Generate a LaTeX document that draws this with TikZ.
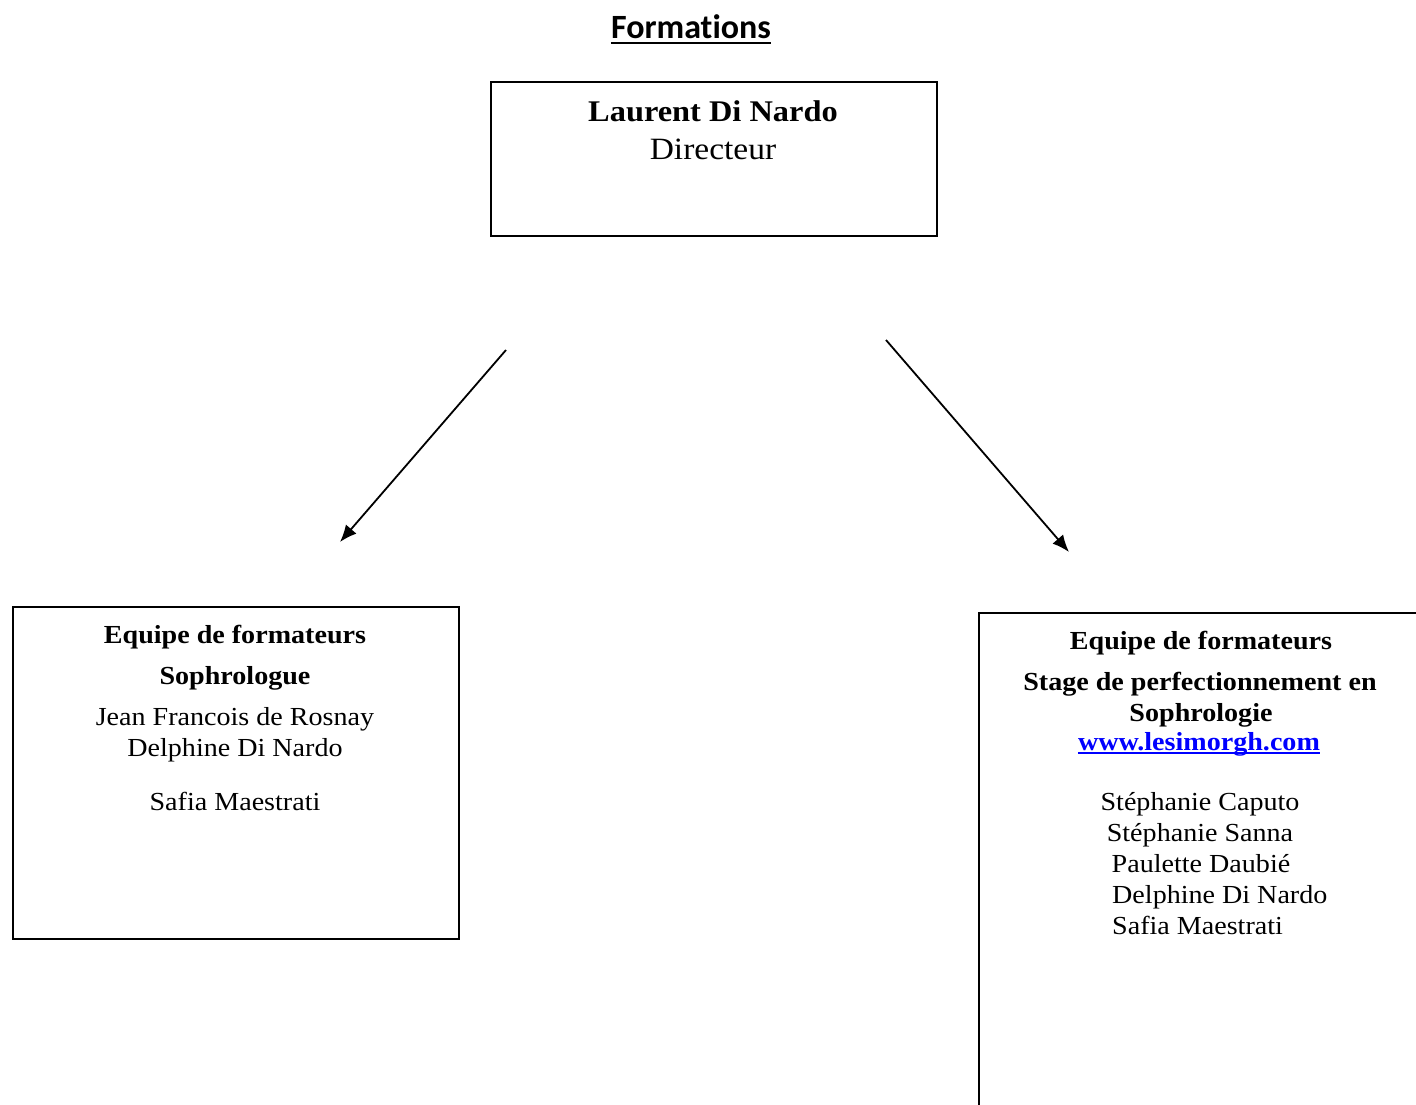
\documentclass[tikz,border=0pt]{standalone}
\usepackage{fontspec}
\setmainfont{Liberation Serif}[FakeStretch=1.08]
\newfontfamily\titlefont{Carlito}[Ligatures=NoCommon]
\usetikzlibrary{arrows.meta}
\definecolor{linkblue}{RGB}{0,0,255}
\tikzset{
  box/.style={draw=black, line width=1.8pt, fill=none, inner sep=0pt},
  txt/.style={anchor=base, inner sep=0pt, font=\fontsize{26}{31}\selectfont},
  btxt/.style={txt, font=\fontsize{26}{31}\selectfont\bfseries},
  conn/.style={line width=1.8pt, -{Latex[length=17pt,width=14pt]}},
  uline/.style={line width=2pt}
}
\begin{document}
\begin{tikzpicture}[x=1pt,y=-1pt]
\useasboundingbox (0,0) rectangle (1416,1105);
\clip (0,0) rectangle (1416,1105);
% title
\node[anchor=base, inner sep=0pt, font=\titlefont\fontsize{34}{40}\selectfont\bfseries] (title) at (691,39) {Formations};
\draw[uline] ([yshift=-4pt]title.base west) -- ([yshift=-4pt]title.base east);
% boxes
\node[box, anchor=north west, minimum width=446pt, minimum height=154pt] (top) at (490,81) {};
\node[box, anchor=north west, minimum width=446pt, minimum height=332pt] (left) at (12,606) {};
\node[box, anchor=north west, minimum width=480pt, minimum height=540pt] (right) at (978,612) {};
% top box text
\node[btxt, font=\fontsize{30}{35}\selectfont\bfseries] (ldn) at (713,122) {Laurent Di Nardo};
\node[txt, font=\fontsize{31}{35}\selectfont] (dir) at (713,159) {Directeur};
% left box text
\node[btxt] (l1) at (235,643) {Equipe de formateurs};
\node[btxt] (l2) at (235,684) {Sophrologue};
\node[txt] (l3) at (235,725) {Jean Francois de Rosnay};
\node[txt] (l4) at (235,756) {Delphine Di Nardo};
\node[txt] (l5) at (235,810) {Safia Maestrati};
% right box text
\node[btxt] (r1) at (1201,649) {Equipe de formateurs};
\node[btxt] (r2) at (1200,690) {Stage de perfectionnement en};
\node[btxt] (r3) at (1201,721) {Sophrologie};
\node[btxt, text=linkblue] (r4) at (1199,750) {www.lesimorgh.com};
\draw[uline, draw=linkblue] ([yshift=-3pt]r4.base west) -- ([yshift=-3pt]r4.base east);
\node[txt] (r5) at (1200,810) {Stéphanie Caputo};
\node[txt] (r6) at (1200,841) {Stéphanie Sanna};
\node[txt] (r7) at (1201,872) {Paulette Daubié};
\node[txt, anchor=base west] (r8) at (1112,903) {Delphine Di Nardo};
\node[txt, anchor=base west] (r9) at (1112,934) {Safia Maestrati};
% arrows
\coordinate (a1s) at (506,350);
\coordinate (a1e) at (340,542);
\coordinate (a2s) at (886,340);
\coordinate (a2e) at (1069,552);
\draw[conn] (a1s) -- (a1e);
\draw[conn] (a2s) -- (a2e);
\end{tikzpicture}
\end{document}
